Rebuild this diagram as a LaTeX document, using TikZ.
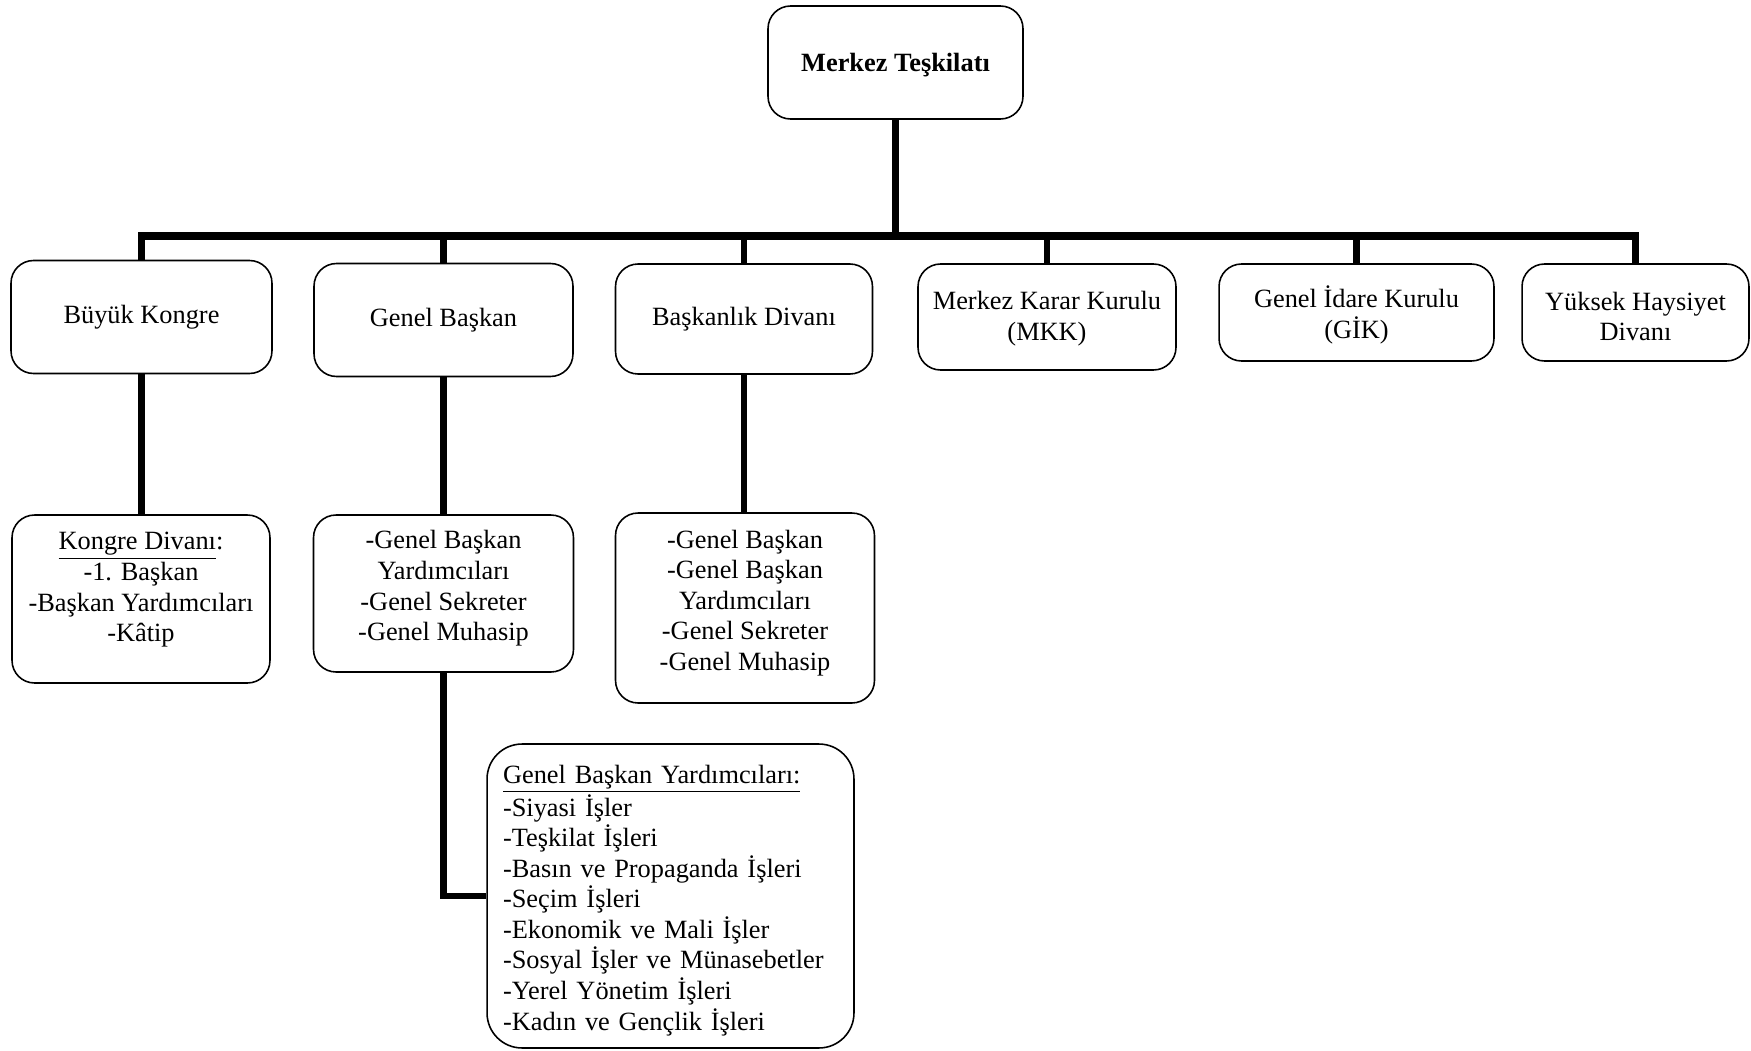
\documentclass[tikz,border=0pt]{standalone}
\usepackage{fontspec}
\setmainfont{Liberation Serif}
\usetikzlibrary{positioning,calc}

\begin{document}
\begin{tikzpicture}[x=0.02cm, y=-0.02cm,
    every node/.style={font=\fontsize{15}{17.4}\selectfont},
    unit/.style={draw, line width=0.9pt, rounded corners=0.45cm, align=center, inner sep=2pt},
    link/.style={line width=3.5pt},
    mainbar/.style={line width=4.2pt, line cap=rect}]
    \useasboundingbox (0,0) rectangle (1751,1051);

    \node[unit, font=\fontsize{15}{17.4}\selectfont\bfseries, minimum width=5.1cm, minimum height=2.26cm] (merkez) at (895.5,62.5) {\rule{0pt}{13pt}Merkez Teşkilatı};

    \node[unit, minimum width=5.22cm, minimum height=2.26cm] (kongre) at (141.5,317) {Büyük Kongre};
    \node[unit, minimum width=5.18cm, minimum height=2.26cm] (baskan) at (443.5,320) {Genel Başkan};
    \node[unit, minimum width=5.14cm, minimum height=2.2cm] (divan) at (744,319) {Başkanlık Divanı};
    \node[unit, minimum width=5.16cm, minimum height=2.12cm] (mkk) at (1047,317) {\rule{0pt}{12pt}Merkez Karar Kurulu\\(MKK)};
    \node[unit, minimum width=5.5cm, minimum height=1.94cm] (gik) at (1356.5,312.5) {\rule{0pt}{15pt}Genel İdare Kurulu\\(GİK)};
    \node[unit, minimum width=4.54cm, minimum height=1.94cm] (yhd) at (1635.5,312.5) {\rule{0pt}{15pt}Yüksek Haysiyet\\Divanı};

    \node[unit, minimum width=5.16cm, minimum height=3.36cm] (kdivan) at (141,599) {};
    \node[anchor=north, align=center] (kdtext) at ([yshift=-0.24cm]kdivan.north) {\underline{Kongre Divanı}:\\-1. Başkan\\-Başkan Yardımcıları\\-Kâtip};
    \node[unit, minimum width=5.2cm, minimum height=3.14cm] (bsub) at (443.5,593.5) {-Genel Başkan\\Yardımcıları\\-Genel Sekreter\\-Genel Muhasip\rule[-9pt]{0pt}{0pt}};
    \node[unit, minimum width=5.18cm, minimum height=3.8cm] (dsub) at (745,608) {-Genel Başkan\\-Genel Başkan\\Yardımcıları\\-Genel Sekreter\\-Genel Muhasip\rule[-9pt]{0pt}{0pt}};

    \node[unit, rounded corners=0.7cm, align=left, text width=6.7cm, inner xsep=0.32cm, minimum height=6.08cm] (gby) at (670.5,896) {\rule{0pt}{15.5pt}\underline{Genel Başkan Yardımcıları:}\\-Siyasi İşler\\-Teşkilat İşleri\\-Basın ve Propaganda İşleri\\-Seçim İşleri\\-Ekonomik ve Mali İşler\\-Sosyal İşler ve Münasebetler\\-Yerel Yönetim İşleri\\-Kadın ve Gençlik İşleri};

    \coordinate (busline) at (0,236);
    \draw[link] (merkez.south) -- (merkez.south |- busline);
    \draw[mainbar] (kongre.north |- busline) -- (yhd.north |- busline);
    \foreach \n in {kongre,baskan,divan,mkk,gik,yhd} {
        \draw[link] (\n.north |- busline) -- (\n.north);
    }
    \draw[link] (kongre.south) -- (kongre.south |- kdivan.north);
    \draw[link] (baskan.south) -- (bsub.north);
    \draw[link] (divan.south) -- (divan.south |- dsub.north);
    \draw[link] (bsub.south) |- (gby.west);
\end{tikzpicture}
\end{document}
